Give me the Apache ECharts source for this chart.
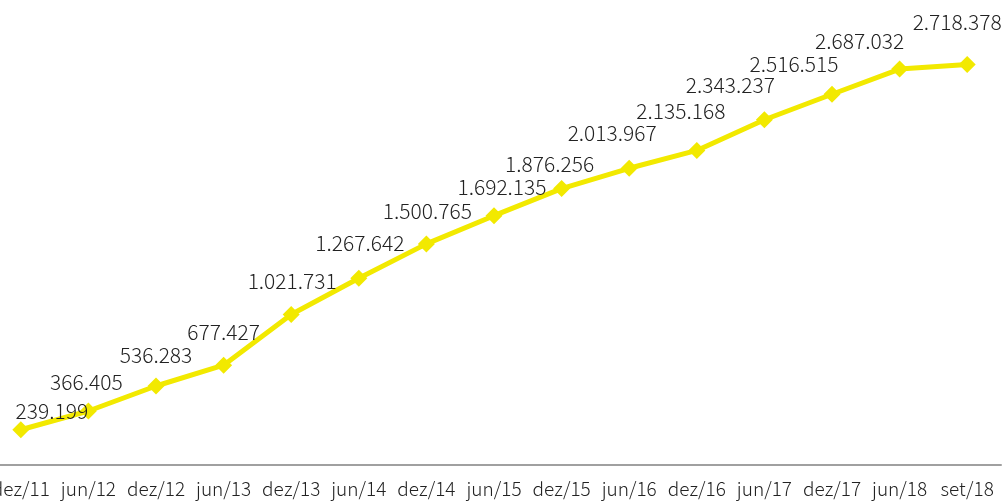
<!DOCTYPE html>
<html><head><meta charset="utf-8">
<script src="https://cdn.jsdelivr.net/npm/echarts@6/dist/echarts.min.js"></script>
<style>html,body{margin:0;padding:0;background:#fff}#c{width:1006px;height:503px}</style>
</head><body><div id="c"></div>
<script>
const categories = ['dez/11','jun/12','dez/12','jun/13','dez/13','jun/14','dez/14','jun/15','dez/15','jun/16','dez/16','jun/17','dez/17','jun/18','set/18'];
const values = [239199,366405,536283,677427,1021731,1267642,1500765,1692135,1876256,2013967,2135168,2343237,2516515,2687032,2718378];
// label placement tweaks (layout only)
const labelOffsets = [[31,0],[-2,-10],[0,-12],[0,-14],[1,-14],[1,-16],[1,-14],[8,-10],[-12,-6],[-17,-16],[-16,-20],[-34,-16],[-38,-11],[-40,-9],[-10,-23]];

function fmt(v){return String(v).replace(/\B(?=(\d{3})+(?!\d))/g,'.');}

const chart = echarts.init(document.getElementById('c'));
chart.setOption({
  animation:false,
  grid:{left:-13,right:5,top:23,bottom:38,containLabel:false,outerBoundsMode:'none'},
  xAxis:{type:'category',data:categories,boundaryGap:true,
    axisLine:{lineStyle:{color:'#a0a0a0',width:2}},axisTick:{show:false},
    axisLabel:{color:'#222',fontFamily:'Noto Sans CJK KR',fontWeight:300,fontSize:19,margin:14,interval:0}},
  yAxis:{type:'value',min:0,max:3000000,show:false,splitLine:{show:false}},
  series:[{type:'line',data:values.map((v,i)=>({value:v,label:{offset:labelOffsets[i]}})),
    symbol:'diamond',symbolSize:17,
    lineStyle:{color:'#f2e900',width:5},itemStyle:{color:'#f2e900'},
    label:{show:true,position:'top',distance:0,color:'#222',fontFamily:'Noto Sans CJK KR',fontWeight:300,fontSize:21,
      formatter:p=>fmt(p.value)}}]
});
</script></body></html>
